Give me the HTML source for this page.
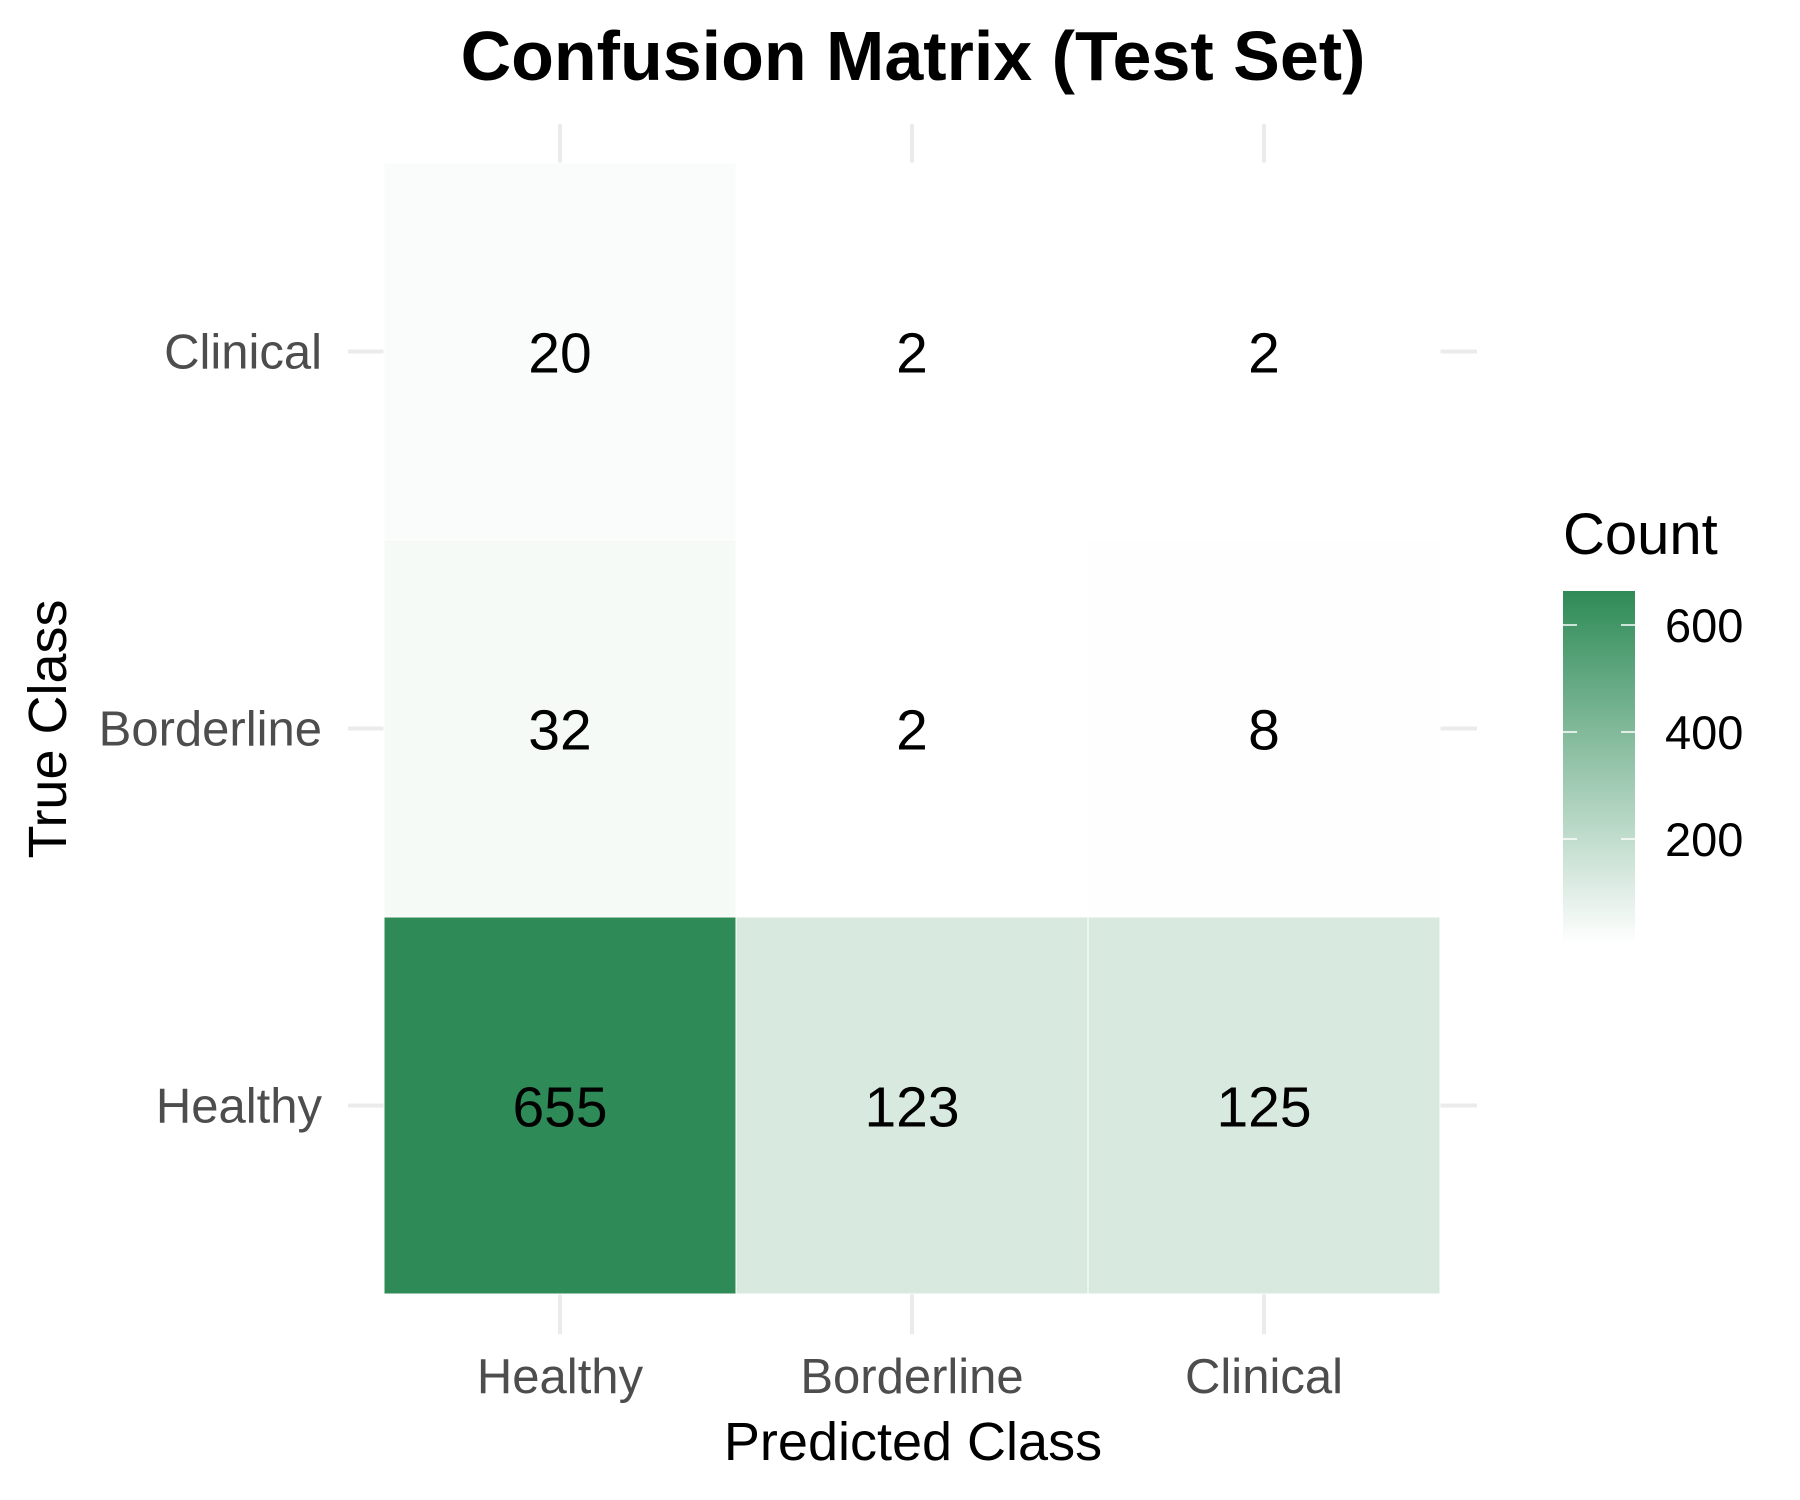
<!DOCTYPE html>
<html><head><meta charset="utf-8"><style>
html,body{margin:0;padding:0;background:#fff;}
svg{display:block;font-family:"Liberation Sans",Arial,sans-serif;}
</style></head><body>
<svg id="chart" width="1800" height="1500" viewBox="0 0 1800 1500">
<defs><linearGradient id="lg" x1="0" y1="1" x2="0" y2="0">
<stop offset="0" stop-color="#ffffff"/><stop offset="1" stop-color="#2e8b57"/></linearGradient></defs>
<text x="913" y="80" text-anchor="middle" font-size="70" font-weight="bold" fill="#000">Confusion Matrix (Test Set)</text>
<g id="grid"></g>
<g id="cells"></g>
<g id="axes"></g>
<text x="913" y="1460" text-anchor="middle" font-size="54" fill="#000">Predicted Class</text>
<text transform="translate(66,729) rotate(-90)" text-anchor="middle" font-size="54" fill="#000">True Class</text>
<text x="1563" y="554" font-size="58" fill="#000">Count</text>
<rect x="1563" y="591" width="72" height="353" fill="url(#lg)"/>
<g id="legend"></g>
</svg>
<script>
const predicted = ["Healthy","Borderline","Clinical"];
const trueCls = ["Healthy","Borderline","Clinical"];
const rowHealthy = [655,123,125];
const rowBorderline = [32,2,8];
const rowClinical = [20,2,2];
const legendTicks = [200,400,600];

const NS="http://www.w3.org/2000/svg";
const svg=document.getElementById('chart');
const X0=384,X1=1440,Y0=1294,Y1=163;
const cw=(X1-X0)/predicted.length, rh=(Y0-Y1)/trueCls.length;
function xC(i){return X0+cw*(i+0.5);}
function yC(j){return Y0-rh*(j+0.5);}
const rows=[rowHealthy,rowBorderline,rowClinical];
const all=rows.flat();
const vmin=Math.min(...all), vmax=Math.max(...all);
function color(v){const t=(v-vmin)/(vmax-vmin);
 const r=Math.round(255-t*(255-46)),g=Math.round(255-t*(255-139)),b=Math.round(255-t*(255-87));
 return `rgb(${r},${g},${b})`;}
function mk(tag,attrs,parent){const e=document.createElementNS(NS,tag);for(const k in attrs)e.setAttribute(k,attrs[k]);parent.appendChild(e);return e;}
const grid=document.getElementById('grid'),cells=document.getElementById('cells'),axes=document.getElementById('axes'),leg=document.getElementById('legend');
predicted.forEach((p,i)=>{
 const t1=mk('line',{x1:xC(i),x2:xC(i),y1:124,y2:Y1,stroke:'#ebebeb','stroke-width':4},grid);
 
 
 const t2=mk('line',{x1:xC(i),x2:xC(i),y1:Y0,y2:1334,stroke:'#ebebeb','stroke-width':4},grid);
 
 
 const l=mk('text',{x:xC(i),y:1393,'text-anchor':'middle','font-size':49,fill:'#4d4d4d'},axes);
 l.textContent=p;
 
 
});
trueCls.forEach((c,j)=>{
 const t1=mk('line',{x1:348,x2:X0,y1:yC(j),y2:yC(j),stroke:'#ebebeb','stroke-width':4},grid);
 
 
 const t2=mk('line',{x1:X1,x2:1477,y1:yC(j),y2:yC(j),stroke:'#ebebeb','stroke-width':4},grid);
 
 
 const l=mk('text',{x:322,y:yC(j)+17,'text-anchor':'end','font-size':49,fill:'#4d4d4d'},axes);
 l.textContent=c;
 
 
 rows[j].forEach((v,i)=>{
  const r=mk('rect',{x:X0+cw*i,y:Y0-rh*(j+1),width:cw,height:rh,fill:color(v),stroke:'#fff','stroke-width':1},cells);
  
  
  const t=mk('text',{x:xC(i),y:yC(j)+21,'text-anchor':'middle','font-size':57,fill:'#000'},cells);
  t.textContent=v;
  
  
 });
});
function ly(v){return 839-(v-200)*(107/200);}
legendTicks.forEach(v=>{
 const a=mk('line',{x1:1563,x2:1577,y1:ly(v),y2:ly(v),stroke:'#fff','stroke-width':1.5},leg);
 
 
 const b=mk('line',{x1:1621,x2:1635,y1:ly(v),y2:ly(v),stroke:'#fff','stroke-width':1.5},leg);
 
 
 const t=mk('text',{x:1665,y:ly(v)+17,'font-size':47,fill:'#000'},leg);
 t.textContent=v;
 
 
});
</script>
</body></html>
